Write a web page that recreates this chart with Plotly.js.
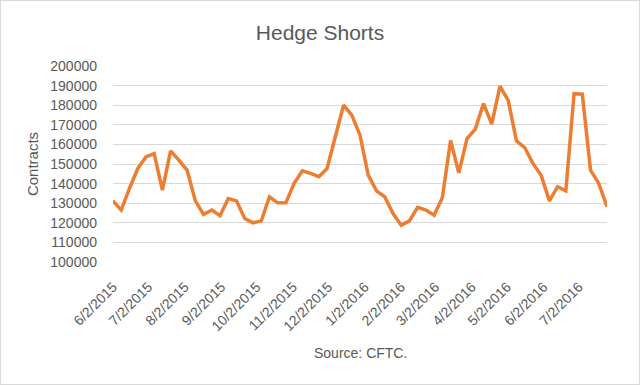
<!DOCTYPE html>
<html>
<head>
<meta charset="utf-8">
<script src="https://cdn.plot.ly/plotly-3.0.1.min.js"></script>
<style>
html,body{margin:0;padding:0;background:#fff;}
#chart{width:638px;height:383px;border:1px solid #d9d9d9;}
</style>
</head>
<body>
<div id="chart"></div>
<script>
const dates = [
"2015-06-02","2015-06-09","2015-06-16","2015-06-23","2015-06-30",
"2015-07-07","2015-07-14","2015-07-21","2015-07-28","2015-08-04",
"2015-08-11","2015-08-18","2015-08-25","2015-09-01","2015-09-08",
"2015-09-15","2015-09-22","2015-09-29","2015-10-06","2015-10-13",
"2015-10-20","2015-10-27","2015-11-03","2015-11-10","2015-11-17",
"2015-11-24","2015-12-01","2015-12-08","2015-12-15","2015-12-22",
"2015-12-29","2016-01-05","2016-01-12","2016-01-19","2016-01-26",
"2016-02-02","2016-02-09","2016-02-16","2016-02-23","2016-03-01",
"2016-03-08","2016-03-15","2016-03-22","2016-03-29","2016-04-05",
"2016-04-12","2016-04-19","2016-04-26","2016-05-03","2016-05-10",
"2016-05-17","2016-05-24","2016-05-31","2016-06-07","2016-06-14",
"2016-06-21","2016-06-28","2016-07-05","2016-07-12","2016-07-19",
"2016-07-26"];
const hedgeShorts = [
131200,126500,137500,147700,153600,155300,136700,156700,152000,146900,
131200,124300,126500,123600,132400,131200,122200,120000,120900,133300,
130200,130200,140100,146500,145200,143500,147700,163500,180000,174900,
164700,144300,136300,133300,124800,118800,121000,127900,126500,123900,
132800,162000,145500,163000,167800,180800,170300,189700,182500,161800,
158400,150300,144300,131200,138400,136300,185900,185600,146900,140100,
128200];
const tickDates = ["2015-06-02","2015-07-02","2015-08-02","2015-09-02","2015-10-02",
"2015-11-02","2015-12-02","2016-01-02","2016-02-02","2016-03-02","2016-04-02",
"2016-05-02","2016-06-02","2016-07-02"];
const tickLabels = ["6/2/2015","7/2/2015","8/2/2015","9/2/2015","10/2/2015",
"11/2/2015","12/2/2015","1/2/2016","2/2/2016","3/2/2016","4/2/2016",
"5/2/2016","6/2/2016","7/2/2016"];
const yTicks = [100000,110000,120000,130000,140000,150000,160000,170000,180000,190000,200000];

const FONT = "Liberation Sans, Arial, sans-serif";
const trace = {
  x: dates, y: hedgeShorts, type: "scatter", mode: "lines",
  line: {color: "#ED7D31", width: 3.5}, hoverinfo: "x+y"
};
const layout = {
  width: 638, height: 383,
  margin: {l: 112, r: 32, t: 65, b: 122},
  paper_bgcolor: "#fff", plot_bgcolor: "#fff",
  showlegend: false,
  title: {text: "Hedge Shorts", font: {family: FONT, size: 21, color: "#595959"},
          x: 0.5, xanchor: "center", yref: "container", y: 0.918, yanchor: "middle"},
  xaxis: {
    type: "date",
    range: ["2015-06-02", "2016-07-26"],
    tickvals: tickDates, ticktext: tickLabels,
    tickangle: -45,
    ticklabelstandoff: 13,
    tickfont: {family: FONT, size: 14, color: "#595959"},
    showgrid: false, zeroline: false,
    showline: false, ticks: ""
  },
  yaxis: {
    range: [100000, 200000],
    tickvals: yTicks, ticktext: yTicks.map(String),
    ticklabelstandoff: 15,
    tickfont: {family: FONT, size: 14, color: "#595959"},
    gridcolor: "#d9d9d9", gridwidth: 1,
    zeroline: false, showline: false, ticks: "",
    title: {text: "Contracts", font: {family: FONT, size: 15, color: "#595959"}, standoff: 8}
  },
  annotations: [{
    text: "Source: CFTC.", xref: "paper", yref: "paper",
    x: 0.5, y: -0.464, xanchor: "center", yanchor: "middle",
    showarrow: false, font: {family: FONT, size: 14, color: "#595959"}
  }]
};
Plotly.newPlot("chart", [trace], layout, {displayModeBar: false, staticPlot: true});
</script>
</body>
</html>
